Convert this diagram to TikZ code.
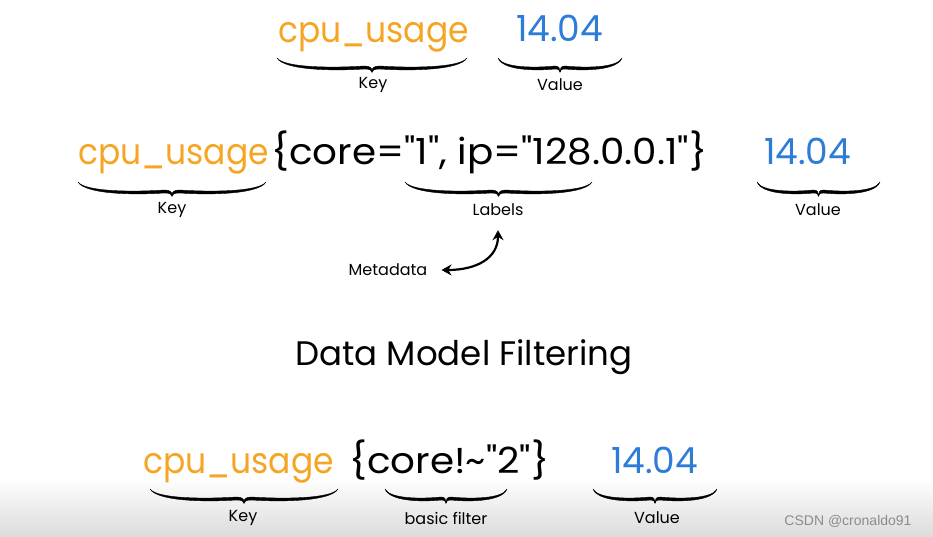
\documentclass[tikz,border=0pt]{standalone}
\usepackage{fontspec}
\newfontfamily\popfont{Poppins}
\newfontfamily\popnarrow{Poppins}[FakeStretch=0.915]
\newfontfamily\popwide{Poppins}[FakeStretch=1.08]
\newfontfamily\wmfont{Liberation Sans}
\usepackage{tikz}
\usetikzlibrary{positioning, calc, arrows.meta}

\definecolor{keyorange}{RGB}{245,165,35}
\definecolor{valblue}{RGB}{45,125,215}

% hand drawn brace: left x, right x, top y (picture units)
\newcommand{\curly}[3]{%
  \filldraw[brace] (#1,#3)
    .. controls ({#1+0.04*(#2-#1)},{#3+10}) and ({#1+0.3*(#2-#1)},{#3+10}) .. ({#1+0.46*(#2-#1)},{#3+8})
    .. controls ({#1+0.49*(#2-#1)},{#3+8}) and ({(#1+#2)/2},{#3+10}) .. ({(#1+#2)/2},{#3+13})
    .. controls ({(#1+#2)/2},{#3+10}) and ({#1+0.51*(#2-#1)},{#3+8}) .. ({#1+0.54*(#2-#1)},{#3+8})
    .. controls ({#1+0.7*(#2-#1)},{#3+10}) and ({#1+0.96*(#2-#1)},{#3+10}) .. (#2,#3)
    .. controls ({#1+0.96*(#2-#1)},{#3+12.5}) and ({#1+0.7*(#2-#1)},{#3+13}) .. ({#1+0.54*(#2-#1)},{#3+11})
    .. controls ({#1+0.51*(#2-#1)},{#3+11}) and ({(#1+#2)/2},{#3+12.5}) .. ({(#1+#2)/2},{#3+14.5})
    .. controls ({(#1+#2)/2},{#3+12.5}) and ({#1+0.49*(#2-#1)},{#3+11}) .. ({#1+0.46*(#2-#1)},{#3+11})
    .. controls ({#1+0.3*(#2-#1)},{#3+13}) and ({#1+0.04*(#2-#1)},{#3+12.5}) .. cycle;}

\begin{document}
\begin{tikzpicture}[x=1pt, y=-1pt]
	\tikzset{term/.style={inner sep=0pt, anchor=base west, font=\popwide\fontsize{36}{36}\selectfont}}
	\tikzset{keyterm/.style={term, text=keyorange, font=\popnarrow\fontsize{36}{36}\selectfont}}
	\tikzset{valterm/.style={term, text=valblue, font=\popfont\fontsize{36}{36}\selectfont}}
	\tikzset{tag/.style={inner sep=1pt, font=\popfont\fontsize{16}{16}\selectfont}}
	\tikzset{brace/.style={draw=black, fill=black, line width=0.4pt, line join=round}}
	\tikzset{arrow/.style={{Stealth[length=10pt, width=11pt]}-{Stealth[length=10pt, width=11pt]}, line width=2.2pt}}

	\useasboundingbox (0,0) rectangle (933,537);
	% grey band at the bottom
	\shade[top color=white, bottom color=black!14] (0,478) rectangle (933,537);

	% Row 0
	\node (key0) [keyterm] at (278,43) {cpu\_usage};
	\node (value0) [valterm] at (516,42) {14.04};
	\curly{277}{467}{58}
	\curly{498}{622}{58}
	\node (keytag0) [tag] at (373,85) {Key};
	\node (valuetag0) [tag] at (560,85) {Value};

	% Row 1
	\node (key1) [keyterm] at (78,165) {cpu\_usage};
	\node (labels1) [term] at (271,165) {\{core="1", ip="128.0.0.1"\}};
	\node (value1) [valterm] at (764,165) {14.04};
	\curly{78}{266}{182}
	\curly{405}{592}{182}
	\curly{757}{880}{182}
	\node (keytag1) [tag] at (172,210) {Key};
	\node (labelstag1) [tag] at (498,210) {Labels};
	\node (valuetag1) [tag] at (818,210) {Value};

	% Metadata
	\node (meta) [tag] at (388,270) {Metadata};
	\draw [arrow] ([xshift=13pt]meta.east) .. controls +(35,0) and +(0,28) .. ([yshift=-13pt]labelstag1.south);

	% Title
	\node (title) [inner sep=0pt, anchor=base, font=\popfont\fontsize{34}{34}\selectfont] at (464,365) {Data Model Filtering};

	% Row 2
	\node (key2) [keyterm] at (143,473) {cpu\_usage};
	\node (filter2) [term] at (349,473) {\{core!\textasciitilde"2"\}};
	\node (value2) [valterm] at (611,473) {14.04};
	\curly{150}{338}{489}
	\curly{385}{507}{489}
	\curly{593}{717}{489}
	\node (keytag2) [tag] at (243,518) {Key};
	\node (filtertag2) [tag] at (446,518) {basic filter};
	\node (valuetag2) [tag] at (657,518) {Value};

	% Watermark
	\node (mark) [inner sep=0pt, text=black!45, font=\wmfont\fontsize{14}{14}\selectfont] at (848,521) {CSDN @cronaldo91};
\end{tikzpicture}
\end{document}
